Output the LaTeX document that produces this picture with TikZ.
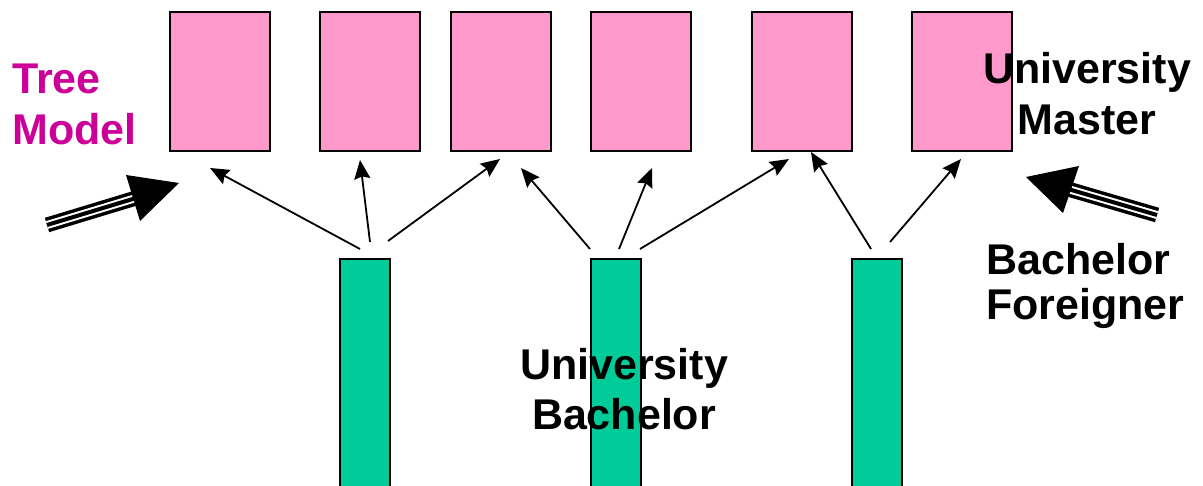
\documentclass[tikz,border=0pt]{standalone}
\usepackage{fontspec}
\setmainfont{Liberation Sans}
\usetikzlibrary{arrows.meta}
\definecolor{boxpink}{RGB}{255,153,204}
\definecolor{bargreen}{RGB}{0,204,153}
\definecolor{titlemag}{RGB}{204,0,153}
\tikzset{
  pinkbox/.style={draw=black, line width=2pt, fill=boxpink, minimum width=100pt, minimum height=139pt, inner sep=0pt, anchor=north west},
  greenbar/.style={draw=black, line width=2pt, fill=bargreen, minimum width=50pt, minimum height=240pt, inner sep=0pt, anchor=north west},
  thinarrow/.style={line width=1.8pt, -{Stealth[length=19pt,width=16pt,inset=2.5pt]}},
  bigtxt/.style={font=\bfseries\fontsize{43}{51}\selectfont, inner sep=0pt},
  bighead/.style={fill=black},
}
\begin{document}
\begin{tikzpicture}[x=1pt,y=-1pt]
\clip (0,0) rectangle (1203,486);
\fill[white] (0,0) rectangle (1203,486);
% pink boxes
\node[pinkbox] (p1) at (168.5,11.5) {};
\node[pinkbox] (p2) at (318.5,11.5) {};
\node[pinkbox] (p3) at (449.5,11.5) {};
\node[pinkbox] (p4) at (590,11.5) {};
\node[pinkbox] (p5) at (750.5,11.5) {};
\node[pinkbox] (p6) at (911,11.5) {};
% green bars
\node[greenbar] (g1) at (339,258) {};
\node[greenbar] (g2) at (590,258) {};
\node[greenbar] (g3) at (851,258) {};
% arrow end points
\coordinate (a1s) at (360,249); \coordinate (a1e) at (210,168);
\coordinate (a2s) at (370,242); \coordinate (a2e) at (360,160);
\coordinate (a3s) at (388,241); \coordinate (a3e) at (500,159);
\coordinate (b1s) at (590,249); \coordinate (b1e) at (521,168);
\coordinate (b2s) at (619,249); \coordinate (b2e) at (652,168);
\coordinate (b3s) at (640,249); \coordinate (b3e) at (789,159);
\coordinate (c1s) at (871,249); \coordinate (c1e) at (811,152);
\coordinate (c2s) at (890,242); \coordinate (c2e) at (961,159);
\foreach \s/\e in {a1s/a1e,a2s/a2e,a3s/a3e,b1s/b1e,b2s/b2e,b3s/b3e,c1s/c1e,c2s/c2e}
  \draw[thinarrow] (\s) -- (\e);
% big left arrow
\coordinate (lt) at (47,225);
\coordinate (lb) at (136,198);
\coordinate (ltip) at (179,183);
\coordinate (lh1) at (126,175);
\coordinate (lh2) at (140,221);
\draw[line width=15pt, black] (lt) -- (lb);
\draw[line width=8pt, white] (lt) -- (lb);
\draw[line width=4pt, black] (lt) -- (lb);
\fill[bighead] (ltip) -- (lh1) -- (lh2) -- cycle;
% big right arrow
\coordinate (rt) at (1157,215);
\coordinate (rb) at (1068,189);
\coordinate (rtip) at (1026,177);
\coordinate (rh1) at (1079,166);
\coordinate (rh2) at (1063,213);
\draw[line width=15pt, black] (rt) -- (rb);
\draw[line width=8pt, white] (rt) -- (rb);
\draw[line width=4pt, black] (rt) -- (rb);
\fill[bighead] (rtip) -- (rh1) -- (rh2) -- cycle;
% texts (base anchor = baseline of the last line)
\node[bigtxt, text=titlemag, align=left, anchor=base west] (tm) at (12,145) {Tree\\Model};
\node[bigtxt, align=center, anchor=base] (um) at (1087,135) {University\\Master};
\node[bigtxt, align=left, anchor=base west, font=\bfseries\fontsize{43}{45}\selectfont] (bf) at (986,320) {Bachelor\\Foreigner};
\node[bigtxt, align=center, anchor=base] (ub) at (624,430) {University\\Bachelor};
\end{tikzpicture}
\end{document}
